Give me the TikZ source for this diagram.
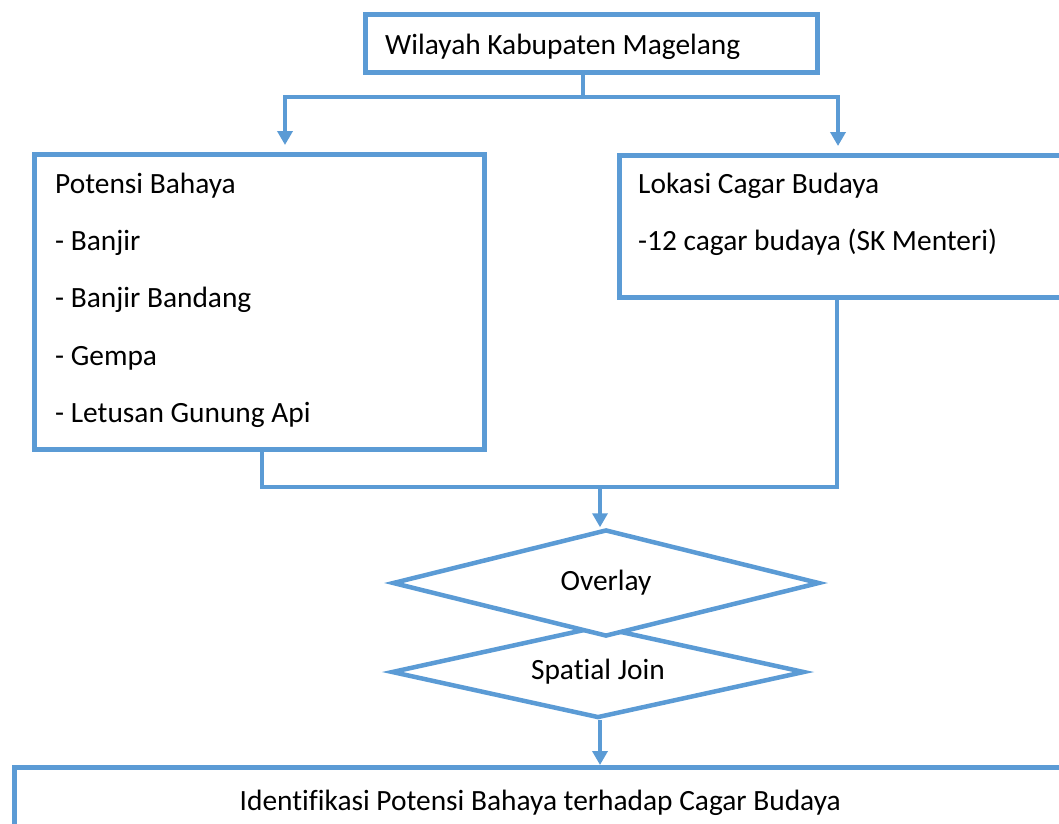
\documentclass[tikz,border=0pt]{standalone}
\usepackage{fontspec}
\setmainfont{Carlito}[Ligatures={NoCommon,NoRare,NoContextual}]
\usepackage{xcolor}
\usepackage{tikz}
\usetikzlibrary{arrows.meta,shapes.geometric}

\definecolor{birubox}{HTML}{5B9BD5}

\begin{document}
\begin{tikzpicture}[x=1pt,y=-1pt]
\tikzstyle{every node}+=[inner sep=0pt, font=\fontsize{29.4pt}{35pt}\selectfont]
\tikzstyle{kotak}=[draw=birubox, line width=4.5pt, rectangle, anchor=north west]
\tikzstyle{belah}=[draw=birubox, line width=4.5pt, diamond, aspect=4, fill=white]
\tikzstyle{garis}=[draw=birubox, line width=4.5pt]
\tikzstyle{panah}=[garis, -{Triangle[width=15pt,length=14pt]}]
\path[use as bounding box] (0,0) rectangle (1059,823);
\clip (0,0) rectangle (1059,823);
\node [kotak, minimum width=452pt, minimum height=58pt] (wilayah) at (363,12) {};
\node [anchor=base west] (wilayahteks) at (385,54) {Wilayah Kabupaten Magelang};
\node [kotak, minimum width=450pt, minimum height=295pt] (bahaya) at (32,152) {};
\node [anchor=base west] (bahaya1) at (55,193) {Potensi Bahaya};
\node [anchor=base west] (bahaya2) at (55,250) {- Banjir};
\node [anchor=base west] (bahaya3) at (55,307) {- Banjir Bandang};
\node [anchor=base west] (bahaya4) at (55,365) {- Gempa};
\node [anchor=base west] (bahaya5) at (55,422) {- Letusan Gunung Api};
\node [kotak, minimum width=455pt, minimum height=142pt] (lokasi) at (617,153) {};
\node [anchor=base west] (lokasi1) at (638,193) {Lokasi Cagar Budaya};
\node [anchor=base west] (lokasi2) at (638,250) {-12 cagar budaya (SK Menteri)};
\node [belah, minimum width=413pt, minimum height=92pt] (spasial) at (598,672) {Spatial Join};
\node [belah, minimum width=427pt, minimum height=107pt] (overlay) at (606,583) {Overlay};
\node [kotak, minimum width=1052pt, minimum height=72pt] (identifikasi) at (12,765) {Identifikasi Potensi Bahaya terhadap Cagar Budaya};
\coordinate (cabang) at (583,97);
\coordinate (kiriatas) at (285,97);
\coordinate (kananatas) at (838,97);
\coordinate (gabungkiri) at (262,487);
\coordinate (gabung) at (600,487);
\coordinate (gabungkanan) at (837,487);
\draw [panah] (wilayah.south -| cabang) -- (cabang) -- (kiriatas) -- ([yshift=7pt]kiriatas |- bahaya.north);
\draw [panah] (cabang) -- (kananatas) -- ([yshift=7pt]kananatas |- lokasi.north);
\draw [garis] (bahaya.south -| gabungkiri) -- (gabungkiri) -- (gabungkanan) -- (lokasi.south -| gabungkanan);
\draw [panah] (gabung) -- (gabung |- overlay.north);
\draw [panah] (spasial.south -| gabung) -- (gabung |- identifikasi.north);
\end{tikzpicture}
\end{document}
